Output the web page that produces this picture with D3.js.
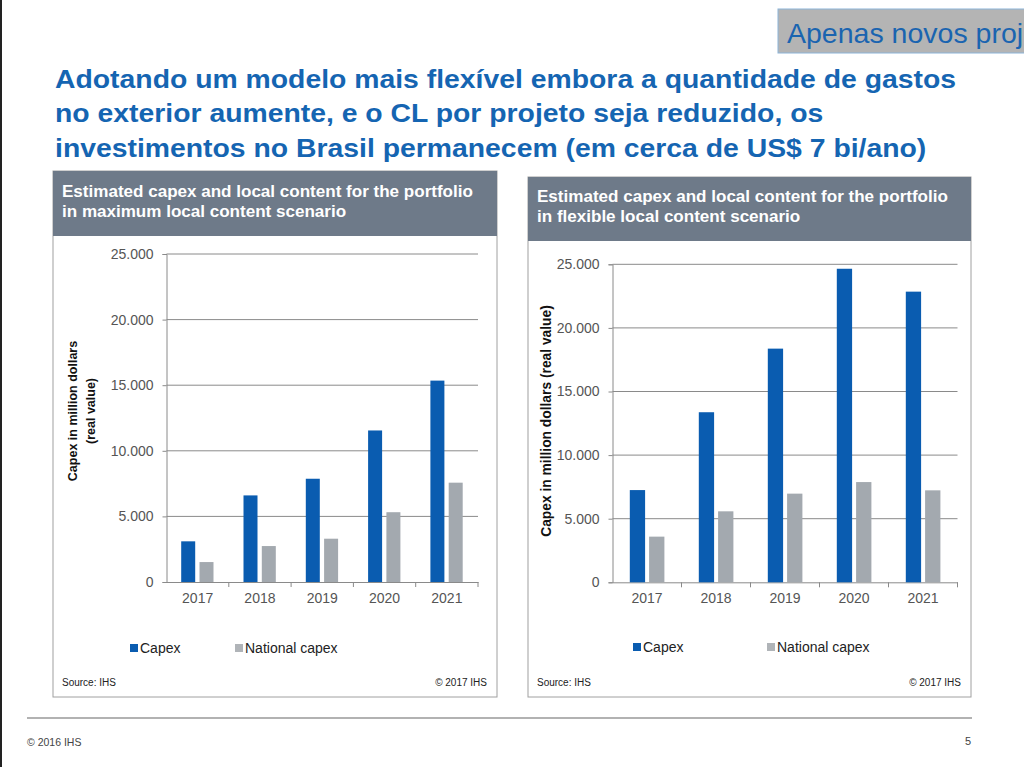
<!DOCTYPE html>
<html><head><meta charset="utf-8">
<script src="https://cdn.jsdelivr.net/npm/d3@7"></script>
<style>
html,body{margin:0;padding:0;background:#fff;}
svg{display:block;font-family:"Liberation Sans",Arial,sans-serif;}
</style></head>
<body>
<svg id="c" width="1024" height="767"></svg>
<script>
const years = ["2017","2018","2019","2020","2021"];
const seriesNames = ["Capex","National capex"];
const maxCapex = [3100, 6600, 7870, 11550, 15350];
const maxNational = [1520, 2740, 3300, 5320, 7570];
const flexCapex = [7250, 13370, 18370, 24650, 22850];
const flexNational = [3590, 5580, 6970, 7880, 7230];
const yTicks = [0, 5000, 10000, 15000, 20000, 25000];
const titleLines = [
  "Adotando um modelo mais flexível embora a quantidade de gastos",
  "no exterior aumente, e o CL por projeto seja reduzido, os",
  "investimentos no Brasil permanecem (em cerca de US$ 7 bi/ano)"
];
const panel1Header = ["Estimated capex and local content for the portfolio","in maximum local content scenario"];
const panel2Header = ["Estimated capex and local content for the portfolio","in flexible local content scenario"];
const yTitle1 = ["Capex in million dollars","(real value)"];
const yTitle2 = ["Capex in million dollars (real value)"];

const BLUE = "#0a5cb0", GRAY = "#a3a9af";
const svg = d3.select("#c");

// stretch text horizontally by a factor, keeping it real text
function stretch(sel, k){
  sel.each(function(){
    const w = this.getComputedTextLength();
    d3.select(this).attr("textLength", w*k).attr("lengthAdjust","spacingAndGlyphs");
  });
}

// page left border
svg.append("rect").attr("x",0).attr("y",0).attr("width",2).attr("height",767).attr("fill","#222");

// top right tag
svg.append("rect").attr("x",778).attr("y",9).attr("width",260).attr("height",44)
  .attr("fill","#b4b4b4").attr("stroke","#8cb4d8").attr("stroke-width",1);
svg.append("text").attr("x",787).attr("y",43).attr("font-size",28.5).attr("fill","#1a64b0").text("Apenas novos proj");

// title
const tt = svg.append("g").selectAll("text").data(titleLines).join("text")
  .attr("x",55).attr("y",(d,i)=>88+i*34.3)
  .attr("font-size",25).attr("font-weight","bold").attr("fill","#1565b2").text(d=>d);
stretch(tt, 1.134);

// footer
svg.append("line").attr("x1",27).attr("x2",972).attr("y1",718).attr("y2",718).attr("stroke","#999").attr("stroke-width",1.5);
svg.append("text").attr("x",27).attr("y",746).attr("font-size",10.5).attr("fill","#444").text("© 2016 IHS");
svg.append("text").attr("x",971).attr("y",745).attr("text-anchor","end").attr("font-size",11).attr("fill","#444").text("5");

function panel(cfg){
  const g = svg.append("g");
  g.append("rect").attr("x",cfg.bx).attr("y",cfg.by).attr("width",cfg.bw).attr("height",cfg.bh)
    .attr("fill","#fff").attr("stroke","#a0a0a0").attr("stroke-width",1);
  g.append("rect").attr("x",cfg.bx).attr("y",cfg.by).attr("width",cfg.bw).attr("height",cfg.hh).attr("fill","#6e7a89");
  const ht = g.selectAll(".h").data(cfg.header).join("text").attr("x",cfg.bx+9).attr("y",(d,i)=>cfg.by+cfg.hy+i*20)
    .attr("font-size",16).attr("font-weight","bold").attr("fill","#fff").text(d=>d);
  stretch(ht, 1.065);

  const x = d3.scaleBand().domain(years).range([cfg.x0,cfg.x1]).paddingInner(0).paddingOuter(0);
  const y = d3.scaleLinear().domain([0,25000]).range([cfg.y0,cfg.yTop]);
  const inner = d3.scaleBand().domain(seriesNames).range([cfg.off, cfg.off+2*cfg.barW+cfg.gap]).paddingInner(cfg.gap/(cfg.barW+cfg.gap));

  // gridlines
  g.append("g").selectAll("line").data(yTicks.slice(1)).join("line")
    .attr("x1",cfg.x0).attr("x2",cfg.x1).attr("y1",d=>y(d)).attr("y2",d=>y(d))
    .attr("stroke","#8a8a8a").attr("stroke-width",1);

  const fmt = d => d===0 ? "0" : d3.format(",")(d).replace(/,/g,".");
  const ya = g.append("g").attr("transform",`translate(${cfg.x0},0)`)
    .call(d3.axisLeft(y).tickValues(yTicks).tickFormat(fmt).tickSize(4).tickPadding(9));
  ya.select(".domain").attr("stroke","#8a8a8a");
  ya.selectAll(".tick line").attr("stroke","#8a8a8a");
  ya.selectAll("text").attr("font-size",14).attr("fill","#555").attr("font-family","Liberation Sans, Arial, sans-serif");

  const xa = g.append("g").attr("transform",`translate(0,${cfg.y0})`)
    .call(d3.axisBottom(x).tickSize(0).tickPadding(11));
  xa.select(".domain").attr("stroke","#8a8a8a");
  xa.selectAll("text").attr("font-size",14).attr("fill","#555").attr("font-family","Liberation Sans, Arial, sans-serif");
  // boundary ticks between categories
  g.append("g").selectAll("line").data(years.slice(1).concat(["end"])).join("line")
    .attr("x1",(d,i)=> i<4 ? x(d) : cfg.x1).attr("x2",(d,i)=> i<4 ? x(d) : cfg.x1)
    .attr("y1",cfg.y0).attr("y2",cfg.y0+5).attr("stroke","#8a8a8a");

  const data = years.map((yr,i)=>({yr, vals:[{s:"Capex",v:cfg.capex[i]},{s:"National capex",v:cfg.national[i]}]}));
  g.append("g").selectAll("g").data(data).join("g").attr("transform",d=>`translate(${x(d.yr)},0)`)
    .selectAll("rect").data(d=>d.vals).join("rect")
    .attr("x",d=>inner(d.s)).attr("width",inner.bandwidth())
    .attr("y",d=>y(d.v)).attr("height",d=>cfg.y0-y(d.v))
    .attr("fill",d=>d.s==="Capex"?BLUE:GRAY);

  // y title
  const yt = g.append("text").attr("transform",`translate(${cfg.ytx},${cfg.yty}) rotate(-90)`)
    .attr("text-anchor","middle").attr("font-size",cfg.ytSize).attr("font-weight","bold").attr("fill","#111");
  yt.selectAll("tspan").data(cfg.ytitle).join("tspan").attr("x",0).attr("dy",(d,i)=>i===0?0:18).text(d=>d);

  // legend
  const lg = g.append("g");
  seriesNames.forEach((s,i)=>{
    lg.append("rect").attr("x",cfg.legX[i]).attr("y",cfg.legY-4).attr("width",8).attr("height",8)
      .attr("fill",i===0?BLUE:"#b0b4b8");
    lg.append("text").attr("x",cfg.legX[i]+10).attr("y",cfg.legY+5).attr("font-size",14).attr("fill","#222").text(s);
  });
  g.append("text").attr("x",cfg.bx+9).attr("y",cfg.by+cfg.bh-11).attr("font-size",10).attr("fill","#222").text("Source: IHS");
  g.append("text").attr("x",cfg.bx+cfg.bw-10).attr("y",cfg.by+cfg.bh-11).attr("text-anchor","end").attr("font-size",10).attr("fill","#222").text("© 2017 IHS");
}

panel({bx:53,by:171,bw:444,bh:526,hh:65,hy:26,header:panel1Header,
  x0:166.5,x1:478,y0:582,yTop:254,off:14.7,barW:14,gap:4.3,
  capex:maxCapex,national:maxNational,ytitle:yTitle1,ytx:77,yty:411,ytSize:12.5,
  legX:[130,235],legY:648});
panel({bx:528,by:177,bw:443,bh:520,hh:64,hy:25,header:panel2Header,
  x0:612.5,x1:957.5,y0:582.3,yTop:264.3,off:17.3,barW:15.3,gap:4,
  capex:flexCapex,national:flexNational,ytitle:yTitle2,ytx:551,yty:421,ytSize:13.8,
  legX:[633,767],legY:647});
</script>
</body></html>
